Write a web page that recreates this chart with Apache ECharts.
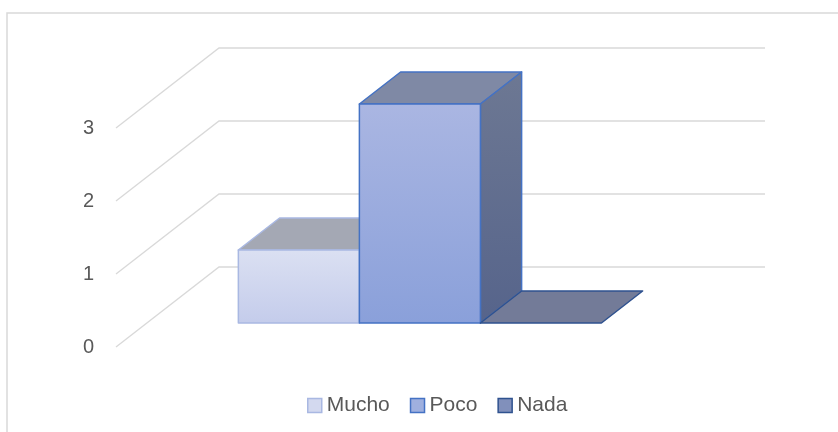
<!DOCTYPE html>
<html>
<head>
<meta charset="utf-8">
<style>
  html, body { margin: 0; padding: 0; background: #fff; }
  #chart { width: 838px; height: 432px; }
</style>
<script src="https://cdn.jsdelivr.net/npm/echarts@6/dist/echarts.min.js"></script>
</head>
<body>
<div id="chart"></div>
<script>
// datos del grafico
const CATEGORIES = ['']
const SERIES_NAMES = ['Mucho', 'Poco', 'Nada']
const SERIES_VALUES = [1, 3, 0]
const Y_TICKS = [0, 1, 2, 3]

// aspecto 3D (profundidad de la caja y de las barras)
const DX = 103
const DY = -80
const T0 = 0.3
const T1 = 0.7
const BAR_FILL = 0.665

const G = echarts.graphic
const faceColors = [
  {
    front: new G.LinearGradient(0, 0, 0, 1, [{ offset: 0, color: '#dbe0f2' }, { offset: 1, color: '#c4cceb' }]),
    top: '#a4a8b4',
    side: '#8d95ab',
    stroke: '#a9b8e2',
    legend: '#d3d9ef'
  },
  {
    front: new G.LinearGradient(0, 0, 0, 1, [{ offset: 0, color: '#aab6e2' }, { offset: 1, color: '#8aa0da' }]),
    top: '#7f89a5',
    side: new G.LinearGradient(0, 0, 0, 1, [{ offset: 0, color: '#6d7893' }, { offset: 1, color: '#56648b' }]),
    stroke: '#4472c4',
    legend: '#9fb0df'
  },
  {
    front: '#6f7fae',
    top: '#737b98',
    side: '#5b6788',
    stroke: '#2f528f',
    legend: '#8190bb'
  }
]

function pt (x, y, t) {
  return [x + t * DX, y + t * DY]
}

function barRender (idx) {
  return function (params, api) {
    const v = api.value(1)
    const base = api.coord([api.value(0), 0])
    const top = api.coord([api.value(0), v])
    const band = api.size([1, 0])[0]
    const w = band * BAR_FILL / SERIES_NAMES.length
    const x0 = base[0] - band * BAR_FILL / 2 + idx * w
    const x1 = x0 + w
    const yb = base[1]
    const yt = top[1]
    const c = faceColors[idx]
    const st = { stroke: c.stroke, lineWidth: 1.5, lineJoin: 'round' }
    const children = []
    // cara superior
    children.push({
      type: 'polygon',
      shape: { points: [pt(x0, yt, T0), pt(x1, yt, T0), pt(x1, yt, T1), pt(x0, yt, T1)] },
      style: Object.assign({ fill: c.top }, st)
    })
    if (v > 0) {
      // lateral
      children.push({
        type: 'polygon',
        shape: { points: [pt(x1, yt, T0), pt(x1, yt, T1), pt(x1, yb, T1), pt(x1, yb, T0)] },
        style: Object.assign({ fill: c.side }, st)
      })
      // frente
      children.push({
        type: 'polygon',
        shape: { points: [pt(x0, yt, T0), pt(x1, yt, T0), pt(x1, yb, T0), pt(x0, yb, T0)] },
        style: Object.assign({ fill: c.front }, st)
      })
    }
    return { type: 'group', children: children }
  }
}

function wallRender (params, api) {
  const p = api.coord([0, api.value(1)])
  const left = params.coordSys.x
  const width = params.coordSys.width
  return {
    type: 'polyline',
    shape: { points: [[left, p[1]], [left + DX, p[1] + DY], [left + width + DX, p[1] + DY]] },
    style: { stroke: '#d9d9d9', lineWidth: 1.3, fill: null }
  }
}

const seriesData = [{
  type: 'custom',
  silent: true,
  z: 1,
  renderItem: wallRender,
  data: Y_TICKS.map(v => [0, v])
}]
SERIES_NAMES.forEach((name, i) => {
  seriesData.push({
    name: name,
    type: 'custom',
    z: 2 + i,
    renderItem: barRender(i),
    itemStyle: { color: faceColors[i].legend },
    data: [[0, SERIES_VALUES[i]]]
  })
})

const option = {
  animation: false,
  backgroundColor: '#fff',
  graphic: [{
    type: 'rect',
    shape: { x: 7, y: 13, width: 900, height: 500 },
    style: { fill: 'none', stroke: '#d9d9d9', lineWidth: 1.5 },
    silent: true
  }],
  grid: { left: 116, right: 176, top: 128, bottom: 85 },
  legend: {
    left: 302,
    top: 390,
    itemWidth: 14,
    itemHeight: 14,
    itemGap: 20,
    textStyle: { fontFamily: 'Liberation Sans', fontSize: 21, color: '#595959' },
    data: SERIES_NAMES.map((name, i) => ({
      name: name,
      icon: 'rect',
      itemStyle: { color: faceColors[i].legend, borderColor: faceColors[i].stroke, borderWidth: 1.5 }
    }))
  },
  xAxis: {
    type: 'category',
    data: CATEGORIES,
    show: false
  },
  yAxis: {
    type: 'value',
    min: 0,
    max: 3,
    interval: 1,
    axisLine: { show: false },
    axisTick: { show: false },
    splitLine: { show: false },
    axisLabel: { margin: 22, fontFamily: 'Liberation Sans', fontSize: 20, color: '#595959' }
  },
  series: seriesData
}

const myChart = echarts.init(document.getElementById('chart'))
myChart.setOption(option, true)
</script>
</body>
</html>
